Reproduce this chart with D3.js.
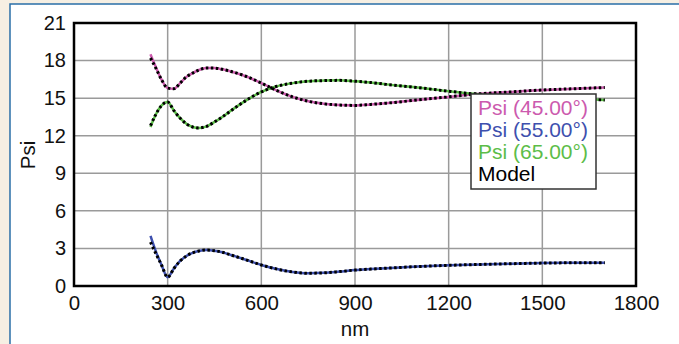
<!DOCTYPE html>
<html>
<head>
<meta charset="utf-8">
<script src="https://cdn.jsdelivr.net/npm/d3@7"></script>
<style>
  body { margin: 0; background: #f6efe3; }
  svg { display: block; font-family: "Liberation Sans", Arial, sans-serif; }
</style>
</head>
<body>
<script>
// wavelengths in nm
var wavelengths = [245, 260, 280, 300, 320, 340, 360, 380, 400, 425, 450, 475, 500, 550, 600, 650, 700, 750, 800, 850, 900, 950, 1000, 1100, 1200, 1300, 1400, 1500, 1600, 1700];

var psi45 = [18.5, 17.6, 16.5, 15.8, 15.75, 16.2, 16.7, 17.0, 17.25, 17.4, 17.4, 17.3, 17.15, 16.75, 16.2, 15.6, 15.1, 14.75, 14.55, 14.45, 14.42, 14.5, 14.6, 14.85, 15.1, 15.35, 15.5, 15.65, 15.75, 15.85];
var psi55 = [4.0, 2.9, 1.7, 0.7, 1.4, 2.0, 2.4, 2.65, 2.8, 2.87, 2.82, 2.7, 2.5, 2.1, 1.68, 1.35, 1.12, 1.02, 1.05, 1.15, 1.27, 1.35, 1.42, 1.55, 1.65, 1.72, 1.78, 1.83, 1.85, 1.85];
var psi65 = [12.7, 13.6, 14.4, 14.7, 14.0, 13.4, 12.95, 12.7, 12.62, 12.75, 13.1, 13.5, 13.95, 14.8, 15.5, 15.95, 16.2, 16.35, 16.4, 16.42, 16.35, 16.25, 16.1, 15.85, 15.55, 15.3, 15.15, 15.05, 14.95, 14.85];

var model45 = [18.2, 17.5, 16.5, 15.8, 15.75, 16.2, 16.7, 17.0, 17.25, 17.4, 17.4, 17.3, 17.15, 16.75, 16.2, 15.6, 15.1, 14.75, 14.55, 14.45, 14.42, 14.5, 14.6, 14.85, 15.1, 15.35, 15.5, 15.65, 15.75, 15.85];
var model55 = [3.5, 2.7, 1.7, 0.7, 1.4, 2.0, 2.4, 2.65, 2.8, 2.87, 2.82, 2.7, 2.5, 2.1, 1.68, 1.35, 1.12, 1.02, 1.05, 1.15, 1.27, 1.35, 1.42, 1.55, 1.65, 1.72, 1.78, 1.83, 1.85, 1.85];
var model65 = [12.8, 13.6, 14.4, 14.7, 14.0, 13.4, 12.95, 12.7, 12.62, 12.75, 13.1, 13.5, 13.95, 14.8, 15.5, 15.95, 16.2, 16.35, 16.4, 16.42, 16.35, 16.25, 16.1, 15.85, 15.55, 15.3, 15.15, 15.05, 14.95, 14.85];

var xTicks = [0, 300, 600, 900, 1200, 1500, 1800];
var yTicks = [0, 3, 6, 9, 12, 15, 18, 21];

var seriesNames = ["Psi (45.00°)", "Psi (55.00°)", "Psi (65.00°)", "Model"];
var seriesColors = ["#cc5aae", "#3e50ae", "#5cbd48", "#000"];

var width = 679, height = 344;
var margin = {left: 74, top: 23, right: 43, bottom: 58};

var svg = d3.select("body").append("svg")
    .attr("width", width)
    .attr("height", height);

// white panel with blue border
svg.append("rect")
    .attr("x", 10).attr("y", 4)
    .attr("width", width).attr("height", height)
    .attr("fill", "#fff")
    .attr("stroke", "#2a6fa8")
    .attr("stroke-width", 1.5);

var x = d3.scaleLinear().domain([0, 1800]).range([margin.left, width - margin.right]);
var y = d3.scaleLinear().domain([0, 21]).range([height - margin.bottom, margin.top]);

var g = svg.append("g");

// gridlines
g.append("g")
  .selectAll("line")
  .data(xTicks.slice(1, -1))
  .enter().append("line")
    .attr("x1", x).attr("x2", x)
    .attr("y1", y(0)).attr("y2", y(21))
    .attr("stroke", "#9a9a9a")
    .attr("stroke-width", 1.5);

g.append("g")
  .selectAll("line")
  .data(yTicks.slice(1, -1))
  .enter().append("line")
    .attr("y1", y).attr("y2", y)
    .attr("x1", x(0)).attr("x2", x(1800))
    .attr("stroke", "#9a9a9a")
    .attr("stroke-width", 1.5);

// axes
var xAxis = g.append("g")
    .attr("transform", "translate(0," + y(0) + ")")
    .call(d3.axisBottom(x).tickValues(xTicks).tickFormat(d3.format("d")).tickSize(0).tickPadding(9));
xAxis.select(".domain").remove();
xAxis.selectAll("text")
    .attr("font-size", 20.5)
    .attr("font-family", "Liberation Sans, Arial, sans-serif")
    .attr("fill", "#111");

var yAxis = g.append("g")
    .attr("transform", "translate(" + x(0) + ",0)")
    .call(d3.axisLeft(y).tickValues(yTicks).tickFormat(d3.format("d")).tickSize(0).tickPadding(8));
yAxis.select(".domain").remove();
yAxis.selectAll("text")
    .attr("font-size", 20)
    .attr("font-family", "Liberation Sans, Arial, sans-serif")
    .attr("fill", "#111");

// frame
g.append("rect")
    .attr("x", x(0)).attr("y", y(21))
    .attr("width", x(1800) - x(0))
    .attr("height", y(0) - y(21))
    .attr("fill", "none")
    .attr("stroke", "#000")
    .attr("stroke-width", 2.5);

// axis titles
svg.append("text")
    .attr("x", (x(0) + x(1800)) / 2)
    .attr("y", 336)
    .attr("text-anchor", "middle")
    .attr("font-size", 20.5)
    .attr("fill", "#111")
    .text("nm");

svg.append("text")
    .attr("transform", "translate(35," + 155 + ")rotate(-90)")
    .attr("text-anchor", "middle")
    .attr("font-size", 20.5)
    .attr("fill", "#111")
    .text("Psi");

// lines
var line = d3.line()
    .x(function(d, i) { return x(wavelengths[i]); })
    .y(function(d) { return y(d); })
    .curve(d3.curveMonotoneX);

var dataSeries = [psi45, psi55, psi65];
g.append("g")
  .selectAll("path")
  .data(dataSeries)
  .enter().append("path")
    .attr("d", line)
    .attr("fill", "none")
    .attr("stroke", function(d, i) { return seriesColors[i]; })
    .attr("stroke-width", 2.5);

g.append("g")
  .selectAll("path")
  .data([model45, model55, model65])
  .enter().append("path")
    .attr("d", line)
    .attr("fill", "none")
    .attr("stroke", "#000")
    .attr("stroke-width", 3)
    .attr("stroke-dasharray", "2.5,2.5");

// legend
var legend = svg.append("g").attr("transform", "translate(471,94)");
legend.append("rect")
    .attr("width", 125)
    .attr("height", 95)
    .attr("fill", "#fff")
    .attr("stroke", "#333")
    .attr("stroke-width", 1.5);

legend.selectAll("text")
  .data(seriesNames)
  .enter().append("text")
    .attr("x", 7)
    .attr("y", function(d, i) { return 21 + i * 22; })
    .attr("font-size", 21)
    .attr("fill", function(d, i) { return seriesColors[i]; })
    .text(function(d) { return d; });
</script>
</body>
</html>
